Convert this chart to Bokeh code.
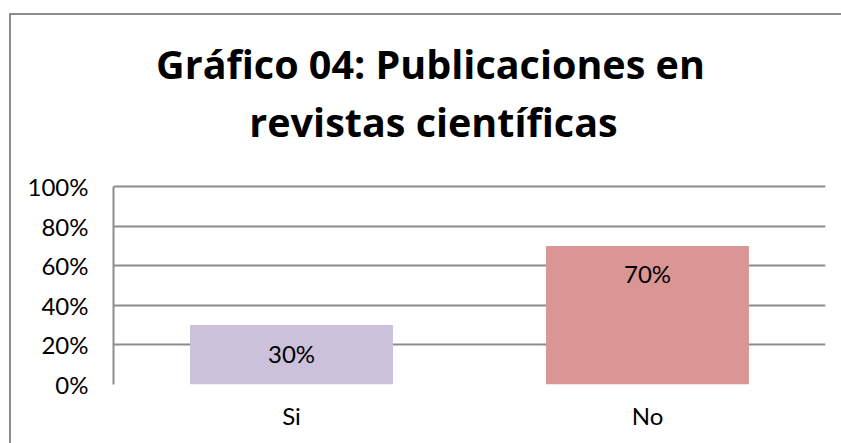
from bokeh.plotting import figure
from bokeh.models import ColumnDataSource, FactorRange, NumeralTickFormatter, FixedTicker, Label, Range1d
from bokeh.embed import file_html
from bokeh.resources import INLINE
from bokeh.core.properties import value

categories = ["Si", "No"]
values = [0.30, 0.70]
labels = ["30%", "70%"]
colors = ["#CCC1DA", "#D99694"]
y_ticks = [0, 0.2, 0.4, 0.6, 0.8, 1.0]
title_lines = ["Gráfico 04: Publicaciones en", "revistas científicas"]

FONT = "Lato"
TFONT = "Open Sans"
GRID = "#8c8c8c"

# the frame reaches up into the title area; the value axis itself spans 0..100 %
FRAME_TOP, FRAME_BOTTOM, AXIS_TOP = 10, 384, 186
y_end = (FRAME_BOTTOM - FRAME_TOP) / (FRAME_BOTTOM - AXIS_TOP)

src = ColumnDataSource(dict(cat=categories, val=values, lab=labels, col=colors))

p = figure(width=841, height=443, x_range=FactorRange(*categories, range_padding=0),
           y_range=Range1d(0, y_end), output_backend="svg", toolbar_location=None,
           min_border_left=113, min_border_right=16, min_border_top=FRAME_TOP,
           min_border_bottom=443 - FRAME_BOTTOM)

p.vbar(x="cat", top="val", width=0.57, color="col", source=src, line_color=None)
p.text(x="cat", y="val", text="lab", source=src, text_align="center", text_baseline="alphabetic",
       y_offset=28, text_font=value(FONT), text_font_size="24px", text_color="black")

p.yaxis.ticker = FixedTicker(ticks=y_ticks)
p.yaxis.bounds = (0, 1)
p.yaxis.formatter = NumeralTickFormatter(format="0%")
p.yaxis.major_label_text_font = FONT
p.yaxis.major_label_text_font_size = "24px"
p.yaxis.major_label_text_color = "black"
p.yaxis.major_label_standoff = 25
p.yaxis.major_tick_out = 0
p.yaxis.major_tick_in = 0
p.yaxis.major_tick_line_color = None
p.yaxis.minor_tick_line_color = None
p.yaxis.axis_line_color = GRID
p.yaxis.axis_line_width = 2

p.xaxis.major_label_text_font = FONT
p.xaxis.major_label_text_font_size = "24px"
p.xaxis.major_label_text_color = "black"
p.xaxis.major_label_standoff = 16
p.xaxis.major_tick_out = 0
p.xaxis.major_tick_in = 0
p.xaxis.major_tick_line_color = None
p.xaxis.axis_line_color = None

p.xgrid.grid_line_color = None
p.ygrid.grid_line_color = GRID
p.ygrid.grid_line_width = 2
p.outline_line_color = None

# title, two centred lines (screen units are measured from the frame's lower-left corner)
for txt, xx, yy in zip(title_lines, [317, 320], [FRAME_BOTTOM - 63, FRAME_BOTTOM - 121]):
    p.add_layout(Label(x=xx, y=yy, x_units="screen", y_units="screen", text=txt,
                       text_align="center", text_baseline="alphabetic", text_font=TFONT,
                       text_font_style="bold", text_font_size="39.5px", text_color="black"))

# outer chart border (left and top edges visible; the rest lies outside the picture)
p.border_fill_color = None
p.background_fill_color = None
p.styles = {"overflow": "hidden", "background": (
    "linear-gradient(#8c8c8c,#8c8c8c) 9px 13px / 2px 100% no-repeat, "
    "linear-gradient(#8c8c8c,#8c8c8c) 9px 13px / 100% 2px no-repeat, white")}

open("out.html", "w").write(file_html(p, INLINE))
